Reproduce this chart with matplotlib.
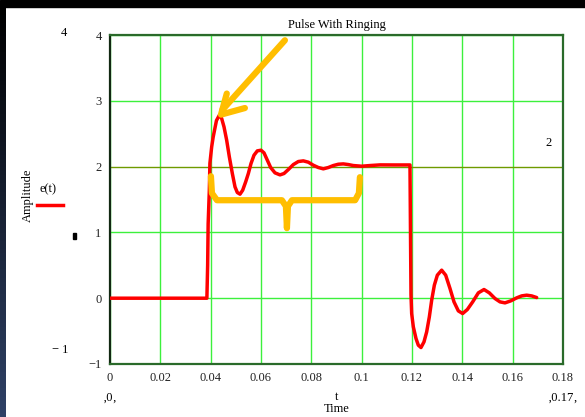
import numpy as np
import matplotlib.pyplot as plt
from matplotlib.patches import Rectangle
from matplotlib.colors import LinearSegmentedColormap

# ----------------------------------------------------------------------
# DATA
# ----------------------------------------------------------------------
t_vals = [0.0000, 0.0385, 0.0388, 0.0390, 0.03947, 0.0397, 0.0404, 0.0410,
          0.0423, 0.04344, 0.04437, 0.04530, 0.04636, 0.04742, 0.04861, 0.04967,
          0.05059, 0.05166, 0.05272, 0.05391, 0.05497, 0.05603, 0.05722, 0.05854,
          0.06000, 0.06119, 0.06252, 0.06384, 0.06556, 0.06755, 0.06914, 0.07086,
          0.07285, 0.07483, 0.07682, 0.07881, 0.08079, 0.08278, 0.08477, 0.08675,
          0.08874, 0.09073, 0.09271, 0.09470, 0.09669, 0.10000, 0.1033, 0.1073,
          0.1130, 0.1192, 0.1194, 0.1196, 0.11987, 0.12053, 0.12159, 0.12251,
          0.12357, 0.12476, 0.12583, 0.12689, 0.12782, 0.12888, 0.13007, 0.13179,
          0.13338, 0.13510, 0.13669, 0.13841, 0.14013, 0.14199, 0.14411, 0.14636,
          0.14861, 0.15073, 0.15298, 0.15497, 0.15696, 0.15921, 0.16159, 0.16358,
          0.16556, 0.16755, 0.16954]
e_vals = [0.000, 0.000, 0.500, 1.130, 1.640, 2.050, 2.300, 2.450,
          2.700, 2.781, 2.731, 2.604, 2.401, 2.148, 1.895, 1.692,
          1.606, 1.581, 1.641, 1.768, 1.895, 2.047, 2.173, 2.239,
          2.249, 2.209, 2.097, 1.986, 1.905, 1.874, 1.895, 1.955,
          2.031, 2.077, 2.087, 2.067, 2.021, 1.986, 1.966, 1.986,
          2.016, 2.036, 2.041, 2.031, 2.016, 2.006, 2.016, 2.026,
          2.025, 2.025, 1.000, 0.050, -0.233, -0.436, -0.613, -0.714,
          -0.750, -0.664, -0.512, -0.284, -0.030, 0.198, 0.350, 0.426,
          0.350, 0.147, -0.056, -0.193, -0.233, -0.172, -0.056, 0.081,
          0.132, 0.081, -0.005, -0.056, -0.071, -0.041, 0.005, 0.035,
          0.046, 0.035, 0.010]

x_ticks = [0, 0.02, 0.04, 0.06, 0.08, 0.10, 0.12, 0.14, 0.16, 0.18]
x_tick_labels = ["0", "0.02", "0.04", "0.06", "0.08", "0.1", "0.12", "0.14", "0.16", "0.18"]
y_ticks = [-1, 0, 1, 2, 3, 4]
y_tick_labels = ["\u22121", "0", "1", "2", "3", "4"]
marker_y = 2

# hand-drawn orange annotations (data coords)
arrow_shaft_t = [0.0695, 0.0446]
arrow_shaft_e = [3.92, 2.86]
arrow_head_t = [0.0464, 0.0441, 0.0536]
arrow_head_e = [3.11, 2.79, 2.89]
brace_t = [0.0401, 0.0405, 0.0425, 0.0683, 0.0699, 0.0703, 0.0707, 0.0723, 0.0974, 0.0989, 0.0993]
brace_e = [1.854, 1.596, 1.489, 1.489, 1.398, 1.064, 1.398, 1.489, 1.489, 1.596, 1.839]

SERIF = "Liberation Serif"
GRID = "#3CF03C"
ORANGE = "#FFBE00"

# ----------------------------------------------------------------------
# FIGURE
# ----------------------------------------------------------------------
fig = plt.figure(figsize=(5.85, 4.17), dpi=100)
fig.patch.set_facecolor("white")

# dark screenshot borders
fig.patches.append(Rectangle((0, 1 - 7 / 417), 1, 7 / 417, transform=fig.transFigure,
                             color="black", zorder=0))
edge = fig.add_axes([0, 0, 5 / 585, 1 - 7 / 417])
grad = np.linspace(0, 1, 100).reshape(-1, 1)
edge.imshow(grad, aspect="auto", origin="lower", extent=[0, 1, 0, 1],
            cmap=LinearSegmentedColormap.from_list("edge", ["#2f4166", "#000000"]))
edge.axis("off")

ax = fig.add_axes([110 / 585, 1 - 364 / 417, 453 / 585, 329 / 417])
ax.set_xlim(0, 0.18)
ax.set_ylim(-1, 4)

ax.set_xticks(x_ticks)
ax.set_xticklabels(x_tick_labels, fontfamily=SERIF, fontsize=9)
ax.set_yticks(y_ticks)
ax.set_yticklabels(y_tick_labels, fontfamily=SERIF, fontsize=9)
ax.tick_params(length=0, pad=6, colors="#222222")

for xv in x_ticks:
    ax.axvline(xv, color=GRID, lw=1, zorder=1)
for yv in y_ticks:
    if yv != marker_y:
        ax.axhline(yv, color=GRID, lw=1, zorder=1)
ax.axhline(marker_y, color="#6f9a00", lw=1, zorder=1)

for side in ["top", "bottom", "right"]:
    ax.spines[side].set_color("#2a6a2a")
    ax.spines[side].set_linewidth(1.6)
ax.spines["left"].set_color("#122812")
ax.spines["left"].set_linewidth(1.6)

ax.plot(t_vals, e_vals, color="#FF0000", lw=2.5, zorder=3,
        solid_joinstyle="round", solid_capstyle="round")

# orange overlays
ax.plot(arrow_shaft_t, arrow_shaft_e, color=ORANGE, lw=4.5, solid_capstyle="round", zorder=4)
ax.plot(arrow_head_t, arrow_head_e, color=ORANGE, lw=4.5, solid_capstyle="round",
        solid_joinstyle="round", zorder=4)
ax.plot(brace_t, brace_e, color=ORANGE, lw=4.5, solid_capstyle="round",
        solid_joinstyle="round", zorder=4)

# texts
ax.set_title("Pulse With Ringing", fontfamily=SERIF, fontsize=9, pad=5)
fig.text(549 / 585, 1 - 143 / 417, "2", ha="center", va="center", fontfamily=SERIF, fontsize=9)
fig.text(64 / 585, 1 - 33 / 417, "4", ha="center", va="center", fontfamily=SERIF, fontsize=9)
fig.text(60 / 585, 1 - 350 / 417, "\u2212 1", ha="center", va="center", fontfamily=SERIF, fontsize=9)
fig.text(28 / 585, 1 - 195 / 417, "Amplitude", rotation=90, ha="center", va="center",
         fontfamily=SERIF, fontsize=9)
fig.text(48 / 585, 1 - 189 / 417, "e(t)", ha="center", va="center", fontfamily=SERIF, fontsize=9)
fig.add_artist(plt.Line2D([37 / 585, 63 / 585], [1 - 205 / 417, 1 - 205 / 417],
                          color="#FF0000", lw=2.5, transform=fig.transFigure))
fig.patches.append(Rectangle((73 / 585, 1 - 239 / 417), 2.5 / 585, 6 / 417,
                             transform=fig.transFigure, color="black"))
fig.text(110 / 585, 1 - 398 / 417, "\u201a0\u201a", ha="center", va="center", fontfamily=SERIF, fontsize=9)
fig.text(563 / 585, 1 - 398 / 417, "\u201a0.17\u201a", ha="center", va="center", fontfamily=SERIF, fontsize=9)
fig.text(337 / 585, 1 - 397 / 417, "t", ha="center", va="center", fontfamily=SERIF, fontsize=9)
fig.text(337 / 585, 1 - 409 / 417, "Time", ha="center", va="center", fontfamily=SERIF, fontsize=9)

fig.savefig("out.png", dpi=100)
